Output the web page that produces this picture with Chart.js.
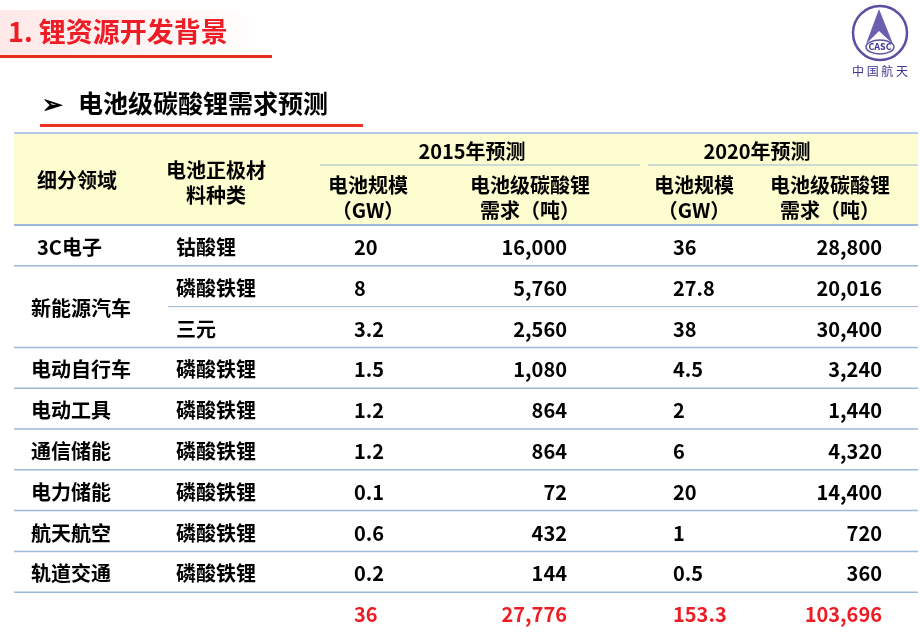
<!DOCTYPE html>
<html><head><meta charset="utf-8">
<script src="https://cdn.jsdelivr.net/npm/chart.js@4"></script>
<style>html,body{margin:0;padding:0;background:#fff}#wrap{width:920px;height:637px}</style>
</head><body><div id="wrap"><canvas id="c"></canvas></div>
<script>
const segments = ["3C电子","新能源汽车","","电动自行车","电动工具","通信储能","电力储能","航天航空","轨道交通",""];
const materials = ["钴酸锂","磷酸铁锂","三元","磷酸铁锂","磷酸铁锂","磷酸铁锂","磷酸铁锂","磷酸铁锂","磷酸铁锂",""];
const gw2015 = ["20","8","3.2","1.5","1.2","1.2","0.1","0.6","0.2","36"];
const demand2015 = ["16,000","5,760","2,560","1,080","864","864","72","432","144","27,776"];
const gw2020 = ["36","27.8","38","4.5","2","6","20","1","0.5","153.3"];
const demand2020 = ["28,800","20,016","30,400","3,240","1,440","4,320","14,400","720","360","103,696"];
const FONT = '"Noto Sans CJK SC", sans-serif';

const slide = {
  id: 'slide',
  afterDraw(chart) {
    const c = chart.ctx;
    c.save();
    c.fillStyle = '#fff'; c.fillRect(0,0,920,637);
    const g = c.createLinearGradient(0,0,270,0);
    g.addColorStop(0,'#ffe8e8'); g.addColorStop(1,'#ffffff');
    c.fillStyle = g; c.fillRect(0,10,270,45);
    c.fillStyle = '#e53020'; c.fillRect(0,55,272,3);
    c.fillStyle = '#ee1c24'; c.font = 'bold 27px '+FONT; c.textBaseline='middle'; c.textAlign='left';
    c.fillText('1. 锂资源开发背景', 8, 32);
    c.strokeStyle = '#5a4fa0'; c.lineWidth = 2.5;
    c.beginPath(); c.arc(880,33,27,0,Math.PI*2); c.stroke();
    c.fillStyle = '#6a5fb0';
    c.beginPath(); c.moveTo(879,9); c.lineTo(866,44); c.lineTo(879,31); c.lineTo(893,44); c.closePath(); c.fill();
    c.fillStyle = '#fff'; c.strokeStyle='#5a4fa0'; c.lineWidth=1.5;
    c.beginPath(); c.ellipse(880,47,14,7,0,0,Math.PI*2); c.fill(); c.stroke();
    c.fillStyle = '#3d3590'; c.font = 'bold 9px '+FONT; c.textAlign='center';
    c.fillText('CASC',880,47);
    c.font = '12px '+FONT; c.fillText('中 国 航 天',880,71);
    c.fillStyle = '#000'; c.textAlign='left'; c.font = 'bold 25px '+FONT;
    c.fillText('➢', 42, 103);
    c.fillText('电池级碳酸锂需求预测', 78, 103);
    c.fillStyle = '#ee3322'; c.fillRect(40,124,323,3);
    const L=14, R=918;
    c.fillStyle = '#fdfdcf'; c.fillRect(L,134,R-L,91);
    const line=(x1,y,x2,w,col)=>{c.strokeStyle=col||'#9db8d8';c.lineWidth=w||1.5;c.beginPath();c.moveTo(x1,y);c.lineTo(x2,y);c.stroke();};
    line(L,133,R); line(L,225,R,2);
    line(320,165,640,1); line(648,165,R,1);
    c.fillStyle='#000'; c.textAlign='center'; c.font='bold 20px '+FONT;
    c.fillText('2015年预测',472,151); c.fillText('2020年预测',757,151);
    c.fillText('细分领域',77,180);
    c.fillText('电池正极材',216,170); c.fillText('料种类',216,195);
    c.fillText('电池规模',368,185); c.fillText('（GW）',368,210);
    c.fillText('电池级碳酸锂',530,185); c.fillText('需求（吨）',530,210);
    c.fillText('电池规模',694,185); c.fillText('（GW）',694,210);
    c.fillText('电池级碳酸锂',830,185); c.fillText('需求（吨）',830,210);
    const top=225, h=40.8;
    const ys = materials.map((_,i)=>top+h*i+h/2+2);
    for (let i=1;i<materials.length;i++){
      const y = top+h*i;
      if (i===2) line(168,y,R,1); else line(L,y,R);
    }
    c.font='bold 20px '+FONT;
    materials.forEach((m,i)=>{
      const y=ys[i], red = i===materials.length-1;
      c.fillStyle = red ? '#ee1c24' : '#000';
      if (segments[i]) {
        const sy = i===1 ? (ys[1]+ys[2])/2 : y;
        c.textAlign='left'; c.fillText(segments[i], i===0?37:31, sy);
      }
      c.textAlign='left';
      if (m) c.fillText(m,176,y);
      c.fillText(gw2015[i],354,y);
      c.fillText(gw2020[i],673,y);
      c.textAlign='right';
      c.fillText(demand2015[i],567,y);
      c.fillText(demand2020[i],882,y);
    });
    c.restore();
  }
};
new Chart(document.getElementById('c'), {
  type:'bar',
  data:{labels:segments, datasets:[{data:[],label:'x'}]},
  options:{responsive:true, maintainAspectRatio:false, animation:false,
    plugins:{legend:{display:false},tooltip:{enabled:false}},
    scales:{x:{display:false},y:{display:false}}},
  plugins:[slide]
});
</script></body></html>
